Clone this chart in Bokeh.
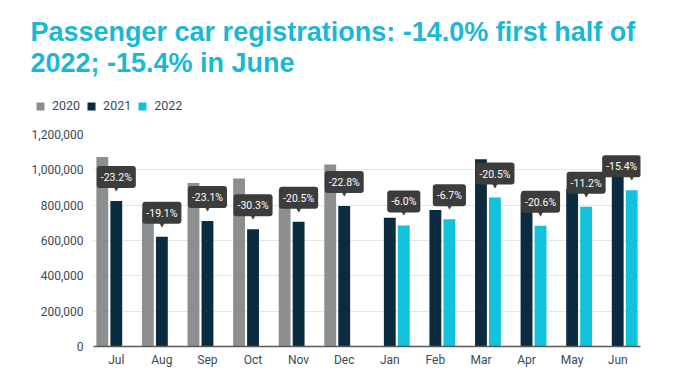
from bokeh.plotting import figure
from bokeh.layouts import column
from bokeh.models import (ColumnDataSource, FactorRange, Range1d, Legend, LegendItem,
                          NumeralTickFormatter, SingleIntervalTicker)
from bokeh.transform import dodge
from bokeh.core.properties import value
from bokeh.embed import file_html
from bokeh.resources import INLINE

# ---- data ----
months = ["Jul", "Aug", "Sep", "Oct", "Nov", "Dec", "Jan", "Feb", "Mar", "Apr", "May", "Jun"]
h2_months = ["Jul", "Aug", "Sep", "Oct", "Nov", "Dec"]
h1_months = ["Jan", "Feb", "Mar", "Apr", "May", "Jun"]
reg_2020 = [1072000, 768000, 925000, 951000, 888000, 1030000]          # Jul-Dec 2020
reg_2021 = [823000, 621000, 711000, 663000, 706000, 795000,             # Jul-Dec 2021
            729000, 772000, 1060000, 862000, 891000, 1046000]           # Jan-Jun 2021
reg_2022 = [685000, 720000, 843000, 684000, 791000, 885000]             # Jan-Jun 2022
chg_h2 = ["-23.2%", "-19.1%", "-23.1%", "-30.3%", "-20.5%", "-22.8%"]   # 2021 vs 2020
chg_h1 = ["-6.0%", "-6.7%", "-20.5%", "-20.6%", "-11.2%", "-15.4%"]     # 2022 vs 2021
years = ["2020", "2021", "2022"]
title_lines = ["Passenger car registrations: -14.0% first half of", "2022; -15.4% in June"]

# ---- style ----
C2020, C2021, C2022 = "#8c8f8f", "#0b2b40", "#12c1dc"
COLORS = [C2020, C2021, C2022]
TITLE_C = "#1ab8d4"
TXT_C = "#3a4a58"
FONT = "Roboto"
BOX_C = "#3c3c3c"
W_PX, HEAD_H, MAIN_H = 684, 126, 243

# ---------------- header: title + legend ----------------
h = figure(width=W_PX, height=HEAD_H, x_range=Range1d(0, W_PX), y_range=Range1d(HEAD_H, 0),
           x_axis_type=None, y_axis_type=None, output_backend="svg", toolbar_location=None,
           title=None, min_border=0, min_border_left=0, min_border_right=0,
           min_border_top=0, min_border_bottom=0)
h.frame_align = False
h.outline_line_color = None
h.text(x=[30, 30], y=[31, 62.5], text=title_lines, text_font=value("Liberation Sans"),
       text_font_style="bold", text_font_size="27px", text_color=TITLE_C,
       text_baseline="alphabetic", text_align="left")
# off-canvas key glyphs, only used to paint the legend swatches
key_renderers = [h.vbar(x=[-100], top=[0], width=1, fill_color=c, line_color=None)
                 for c in COLORS]
legend = Legend(items=[LegendItem(label=y, renderers=[r]) for y, r in zip(years, key_renderers)],
                orientation="horizontal", location=(35, 13),
                glyph_width=10, glyph_height=10, label_height=10, label_width=10,
                label_standoff=7, spacing=6, padding=0, margin=0,
                border_line_color=None, background_fill_alpha=0,
                label_text_font=FONT, label_text_font_size="12.5px",
                label_text_color=TXT_C)
h.add_layout(legend, "center")

# ---------------- main bar chart ----------------
src2020 = ColumnDataSource(dict(m=h2_months, v=reg_2020))
src2021 = ColumnDataSource(dict(m=months, v=reg_2021))
src2022 = ColumnDataSource(dict(m=h1_months, v=reg_2022))
lab_h2 = ColumnDataSource(dict(m=h2_months, v=reg_2021[:6], t=chg_h2,
                               xo=[0, 0, 0, 0, 0, 0]))
lab_h1 = ColumnDataSource(dict(m=h1_months, v=reg_2022, t=chg_h1,
                               xo=[0, 0, 0, 0, 0, -10]))

p = figure(width=W_PX, height=MAIN_H, x_range=FactorRange(*months, range_padding=0),
           y_range=Range1d(0, 1200000), output_backend="svg", toolbar_location=None,
           title=None,
           min_border_left=93, min_border_right=44, min_border_top=8, min_border_bottom=22)
p.frame_align = False
p.outline_line_color = None

OFF = 0.307
W = 0.26
for data, off, col in ((src2020, -OFF, C2020), (src2021, 0, C2021), (src2022, OFF, C2022)):
    p.vbar(x=dodge("m", off, range=p.x_range), top="v", width=W, source=data,
           fill_color=col, line_color=None)

# value change callouts
for src, off in ((lab_h2, 0), (lab_h1, OFF)):
    p.text(x=dodge("m", off, range=p.x_range), y="v", text="t", source=src,
           x_offset="xo", y_offset=-24, text_align="center", text_baseline="middle",
           text_font=value(FONT), text_font_size="10.5px", text_color="white",
           background_fill_color=BOX_C, border_radius=3,
           padding=dict(left=4, right=4, top=5, bottom=4))
    p.text(x=dodge("m", off, range=p.x_range), y="v", text=value("\u25BC"), source=src,
           y_offset=-12, text_align="center", text_baseline="middle",
           text_font=value("DejaVu Sans"), text_font_size="7px", text_color=BOX_C)

# axes
p.yaxis.ticker = SingleIntervalTicker(interval=200000)
p.yaxis.formatter = NumeralTickFormatter(format="0,0")
for ax in (p.xaxis[0], p.yaxis[0]):
    ax.major_tick_line_color = None
    ax.minor_tick_line_color = None
    ax.major_tick_in = 0
    ax.major_tick_out = 0
    ax.minor_tick_in = 0
    ax.minor_tick_out = 0
    ax.major_label_text_font = FONT
    ax.major_label_text_font_size = "12px"
    ax.major_label_text_color = TXT_C
p.yaxis.axis_line_color = None
p.yaxis.major_label_standoff = 10
p.xaxis.axis_line_color = "#5a5a5a"
p.xaxis.axis_line_width = 1.5
p.xaxis.major_label_standoff = 6
p.xgrid.grid_line_color = None
p.ygrid.grid_line_color = "#e6e6e6"

open("out.html", "w").write(file_html(column(h, p, spacing=0), INLINE))
